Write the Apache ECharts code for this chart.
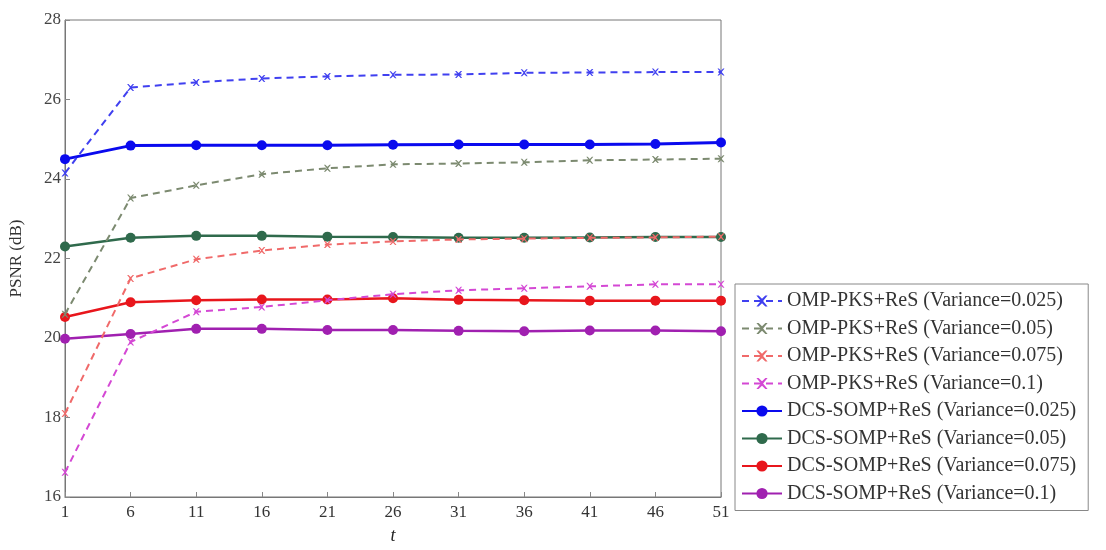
<!DOCTYPE html>
<html>
<head>
<meta charset="utf-8">
<script src="https://cdn.jsdelivr.net/npm/echarts@6/dist/echarts.min.js"></script>
<style>html,body{margin:0;padding:0;background:#fff}#c{width:1106px;height:550px}</style>
</head>
<body>
<div id="c"></div>
<script>
var categories = ['1','6','11','16','21','26','31','36','41','46','51'];
var yTicks = [16, 18, 20, 22, 24, 26, 28];
var seriesNames = [
  'OMP-PKS+ReS (Variance=0.025)',
  'OMP-PKS+ReS (Variance=0.05)',
  'OMP-PKS+ReS (Variance=0.075)',
  'OMP-PKS+ReS (Variance=0.1)',
  'DCS-SOMP+ReS (Variance=0.025)',
  'DCS-SOMP+ReS (Variance=0.05)',
  'DCS-SOMP+ReS (Variance=0.075)',
  'DCS-SOMP+ReS (Variance=0.1)'
];
var omp025 = [24.15, 26.30, 26.43, 26.53, 26.58, 26.62, 26.63, 26.67, 26.68, 26.69, 26.69];
var omp05  = [20.60, 23.52, 23.84, 24.12, 24.27, 24.37, 24.39, 24.42, 24.47, 24.49, 24.51];
var omp075 = [18.10, 21.50, 21.98, 22.20, 22.35, 22.43, 22.48, 22.50, 22.52, 22.53, 22.55];
var omp1   = [16.62, 19.90, 20.66, 20.78, 20.95, 21.10, 21.20, 21.25, 21.30, 21.35, 21.35];
var dcs025 = [24.50, 24.84, 24.85, 24.85, 24.85, 24.86, 24.87, 24.87, 24.87, 24.88, 24.92];
var dcs05  = [22.30, 22.52, 22.57, 22.57, 22.55, 22.54, 22.52, 22.52, 22.53, 22.54, 22.54];
var dcs075 = [20.53, 20.90, 20.95, 20.97, 20.97, 21.00, 20.96, 20.95, 20.94, 20.94, 20.94];
var dcs1   = [19.98, 20.10, 20.23, 20.23, 20.20, 20.20, 20.18, 20.17, 20.19, 20.19, 20.17];

var seriesData = [omp025, omp05, omp075, omp1, dcs025, dcs05, dcs075, dcs1];
var colors = ['#4040f0', '#7c8a70', '#f06a6a', '#d448d4', '#0a0aee', '#2f6a4c', '#e8161c', '#a020b0'];
var crossSymbol = 'path://M0,0L2,0L5,3L8,0L10,0L6,5L10,10L8,10L5,7L2,10L0,10L4,5Z';

var series = seriesData.map(function (d, i) {
  var dashed = i < 4;
  return {
    name: seriesNames[i],
    type: 'line',
    data: d,
    symbol: dashed ? crossSymbol : 'circle',
    symbolSize: dashed ? 7 : 10,
    showSymbol: true,
    lineStyle: { color: colors[i], width: dashed ? 2 : (i === 4 ? 3 : 2.5), type: dashed ? [7, 5] : 'solid' },
    itemStyle: { color: colors[i], borderWidth: 0 },
    emphasis: { disabled: true },
    animation: false,
    z: dashed ? 3 : 2
  };
});

var chart = echarts.init(document.getElementById('c'));
chart.setOption({
  backgroundColor: '#fff',
  animation: false,
  grid: { left: 64, right: 385, top: 20, bottom: 48, show: true, borderColor: '#777', borderWidth: 1, containLabel: false },
  xAxis: {
    type: 'category',
    data: categories,
    boundaryGap: false,
    name: 't',
    nameLocation: 'middle',
    nameGap: 30,
    nameTextStyle: { fontFamily: 'Liberation Serif', fontStyle: 'italic', fontSize: 18, color: '#222' },
    axisLine: { lineStyle: { color: '#777' } },
    axisTick: { inside: true, length: 5, lineStyle: { color: '#888' } },
    axisLabel: { fontFamily: 'Liberation Serif', fontSize: 17, color: '#333', margin: 7 },
    splitLine: { show: false }
  },
  yAxis: {
    type: 'value',
    min: 16, max: 28, interval: 2,
    name: 'PSNR (dB)',
    nameLocation: 'middle',
    nameGap: 40,
    nameTextStyle: { fontFamily: 'Liberation Serif', fontSize: 17, color: '#333' },
    axisLine: { show: true, lineStyle: { color: '#777' } },
    axisTick: { show: true, inside: true, length: 5, lineStyle: { color: '#888' } },
    axisLabel: { fontFamily: 'Liberation Serif', fontSize: 17, color: '#444', margin: 4,
      formatter: function (v) { return yTicks.indexOf(v) >= 0 ? String(v) : ''; } },
    splitLine: { show: false }
  },
  legend: {
    orient: 'vertical',
    left: 735, top: 284,
    padding: [7, 12, 7, 6],
    itemGap: 7.5,
    itemWidth: 40, itemHeight: 14,
    borderColor: '#888', borderWidth: 1,
    backgroundColor: '#fff',
    textStyle: { fontFamily: 'Liberation Serif', fontSize: 20, color: '#333', padding: [0, 0, 0, 0] },
    data: seriesNames
  },
  series: series
});
</script>
</body>
</html>
